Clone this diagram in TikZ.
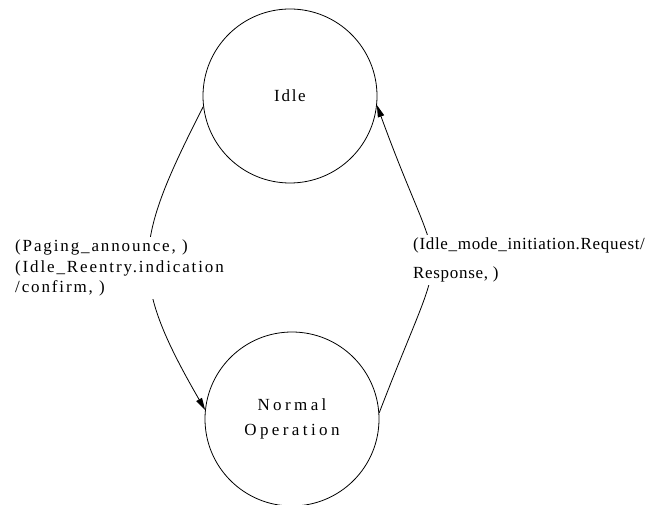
\documentclass[tikz,border=0pt]{standalone}
\usepackage{fontspec}
\setmainfont{Liberation Serif}
\newfontfamily\statefont[LetterSpace=10]{Liberation Serif}
\newfontfamily\widefont[LetterSpace=20]{Liberation Serif}
\newfontfamily\leftfont[LetterSpace=11]{Liberation Serif}
\newfontfamily\rightfont[LetterSpace=4]{Liberation Serif}
\usetikzlibrary{arrows.meta}

\begin{document}
\begin{tikzpicture}[x=1pt, y=1pt,
    state/.style={draw, circle, minimum size=174pt, inner sep=0pt,
                  line width=0.8pt, align=center},
    lbl/.style={fill=white, align=left, inner sep=3pt, anchor=west},
    arr/.style={-{Triangle[length=12pt, width=6.5pt]}, line width=0.8pt}
]
\useasboundingbox (0,0) rectangle (650,504);
\node[state, font={\statefont\fontsize{17}{20}\selectfont}] (idle) at (290,408) {Idle};
\node[state, font={\widefont\fontsize{17}{25}\selectfont}] (norm) at (292,85) {Normal\\Operation};
\draw[arr] (idle.187) to[out=243, in=120, looseness=1.3] (norm.174);
\draw[arr] (norm.4.5) to[out=69, in=290, looseness=1.7] (idle.354);
\node[lbl, font={\leftfont\fontsize{17}{20.5}\selectfont}] (down) at (12,236)
    {(Paging\_announce, )\\(Idle\_Reentry.indication\\/confirm, )};
\node[lbl, font={\rightfont\fontsize{17}{29}\selectfont}] (up) at (410,244)
    {(Idle\_mode\_initiation.Request/\\Response, )};
\end{tikzpicture}
\end{document}
